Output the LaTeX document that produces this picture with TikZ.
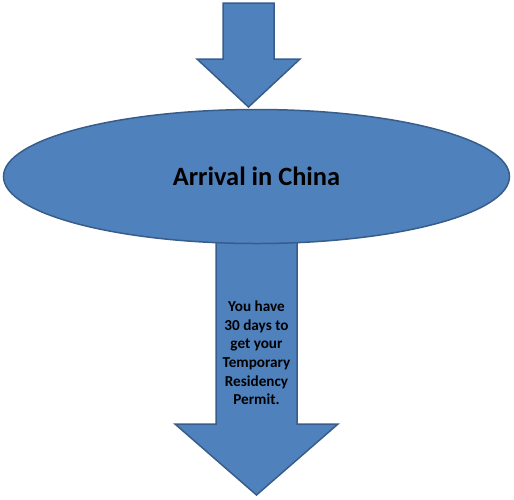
\documentclass[tikz,border=0pt]{standalone}
\usepackage{fontspec}
\setmainfont{Carlito}
\usetikzlibrary{shapes.geometric}
\definecolor{arrfill}{HTML}{4F81BD}
\definecolor{arrline}{HTML}{385D8A}

\begin{document}
\begin{tikzpicture}[x=1pt, y=-1pt,
  blk/.style={fill=arrfill, draw=arrline, line width=1.5pt, line join=miter},
  oval/.style={ellipse, fill=arrfill, draw=arrline, line width=1.5pt, minimum width=506pt, minimum height=134pt, inner sep=0pt, font=\fontsize{26.4}{31}\selectfont\bfseries},
  note/.style={align=center, font=\fontsize{15.2}{18.6}\selectfont\bfseries}
]
\useasboundingbox (0,0) rectangle (514,499);
% arrow in
\draw[blk] (223,3) -- (274,3) -- (274,59) -- (300,59) -- (248.5,107) -- (197,59) -- (223,59) -- cycle;
% arrow out, its shaft starts under the oval
\draw[blk] (216,230) -- (297,230) -- (297,424) -- (338,424) -- (256.5,495) -- (175,424) -- (216,424) -- cycle;
\node[oval] (arrival) at (256.5,176.5) {Arrival in China};
\node[note] (permit) at (256.5,353) {You have\\30 days to\\get your\\Temporary\\Residency\\Permit.};
\end{tikzpicture}
\end{document}
